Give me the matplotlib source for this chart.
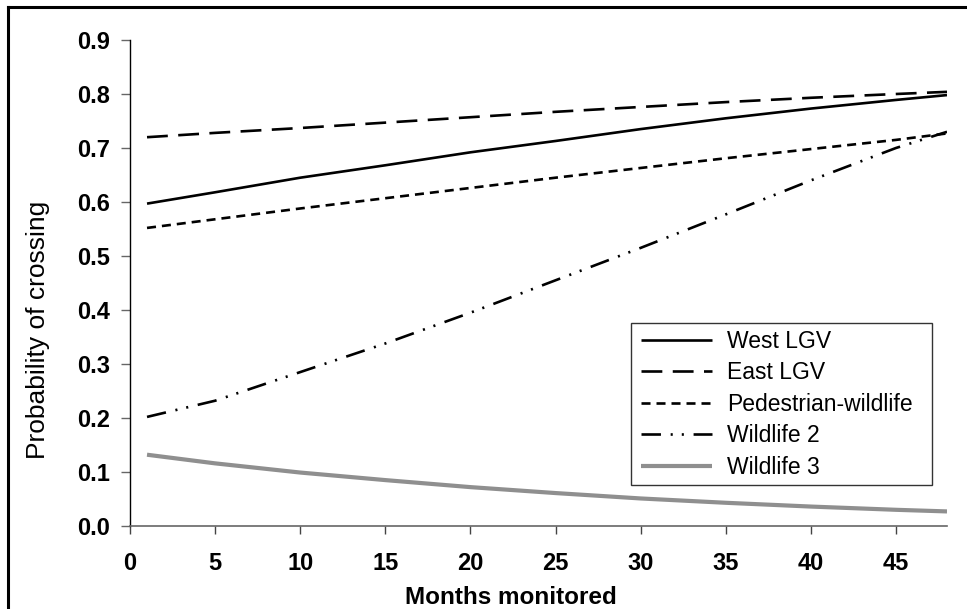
import matplotlib
matplotlib.use("Agg")
import matplotlib.pyplot as plt
from matplotlib.lines import Line2D
from matplotlib.patches import Rectangle

months = [1, 5, 10, 15, 20, 25, 30, 35, 40, 45, 48]
west_lgv = [0.597, 0.618, 0.645, 0.668, 0.692, 0.713, 0.735, 0.755, 0.773, 0.789, 0.798]
east_lgv = [0.720, 0.728, 0.737, 0.747, 0.757, 0.767, 0.776, 0.785, 0.793, 0.800, 0.804]
ped_wildlife = [0.552, 0.568, 0.588, 0.607, 0.626, 0.645, 0.663, 0.681, 0.698, 0.715, 0.727]
wildlife2 = [0.202, 0.232, 0.285, 0.338, 0.395, 0.455, 0.515, 0.577, 0.640, 0.700, 0.730]
wildlife3 = [0.132, 0.116, 0.099, 0.085, 0.072, 0.061, 0.051, 0.043, 0.036, 0.030, 0.027]

labels = ["West LGV", "East LGV", "Pedestrian-wildlife", "Wildlife 2", "Wildlife 3"]
xticks = [0, 5, 10, 15, 20, 25, 30, 35, 40, 45]
yticks = [0.0, 0.1, 0.2, 0.3, 0.4, 0.5, 0.6, 0.7, 0.8, 0.9]

plt.rcParams['font.family'] = ['Liberation Sans', 'DejaVu Sans']
plt.rcParams['lines.scale_dashes'] = False

W, H = 967, 609
fig = plt.figure(figsize=(W / 100, H / 100), dpi=100)
ax = fig.add_axes([130 / W, 1 - 526 / H, (947 - 130) / W, (526 - 40) / H])

series = [west_lgv, east_lgv, ped_wildlife, wildlife2, wildlife3]
styles = [
    dict(color='black', lw=1.9, ls='-'),
    dict(color='black', lw=1.9, ls=(0, (15, 7.5))),
    dict(color='black', lw=1.9, ls=(0, (6.5, 4.3))),
    dict(color='black', lw=1.9, ls=(0, (14, 7, 1.5, 6.5, 1.5, 7))),
    dict(color='#8f8f8f', lw=3.0, ls='-'),
]
handles = []
for vals, lab, st in zip(series, labels, styles):
    h, = ax.plot(months, vals, label=lab, solid_capstyle='butt', dash_capstyle='butt', **st)
    handles.append(h)

ax.set_xlim(0, 48)
ax.set_ylim(0, 0.9)
ax.set_xticks(xticks)
ax.set_xticklabels([str(t) for t in xticks])
ax.set_yticks(yticks)
ax.set_yticklabels([f"{t:.1f}" for t in yticks])

for s in ['top', 'right']:
    ax.spines[s].set_visible(False)
ax.spines['left'].set_color('black')
ax.spines['left'].set_linewidth(1.0)
ax.spines['bottom'].set_color('#666666')
ax.spines['bottom'].set_linewidth(1.2)

ax.tick_params(axis='y', direction='out', length=6.5, width=1, color='#666666', pad=8,
               labelsize=17)
ax.tick_params(axis='x', direction='out', length=6, width=1, color='#444444', pad=12.5,
               labelsize=17)
for t in ax.get_xticklabels() + ax.get_yticklabels():
    t.set_fontweight('bold')

ax.set_xlabel("Months monitored", fontsize=17.5, fontweight='bold')
ax.xaxis.label.set_va('center')
ax.xaxis.set_label_coords((511 - 130) / 817, -(598 - 526) / 486)
ax.set_ylabel("Probability of crossing", fontsize=19)
ax.yaxis.label.set_va('center')
ax.yaxis.set_label_coords(-92 / 817, (526 - 330) / 486)

# legend box
box = Rectangle((631 / W, 1 - 485 / H), (932 - 631) / W, (485 - 323) / H,
                transform=fig.transFigure, facecolor='white', edgecolor='#333333',
                lw=1.0, zorder=4)
ax.add_patch(box)
box.set_clip_on(False)

leg = ax.legend(handles=handles, labels=labels, loc='upper left',
                bbox_to_anchor=(641 / W, 1 - 330 / H), bbox_transform=fig.transFigure,
                borderaxespad=0, frameon=False, borderpad=0,
                fontsize=16.5, handlelength=3.1, handletextpad=0.65, labelspacing=0.37)
leg.set_zorder(5)

# figure border (left and top edges visible)
fig.add_artist(Line2D([8 / W, 8 / W], [0, 1 - 7 / H], transform=fig.transFigure,
                      color='black', lw=2.2))
fig.add_artist(Line2D([8 / W, 1], [1 - 7 / H, 1 - 7 / H], transform=fig.transFigure,
                      color='black', lw=2.2))

fig.savefig("out.png", dpi=100)
